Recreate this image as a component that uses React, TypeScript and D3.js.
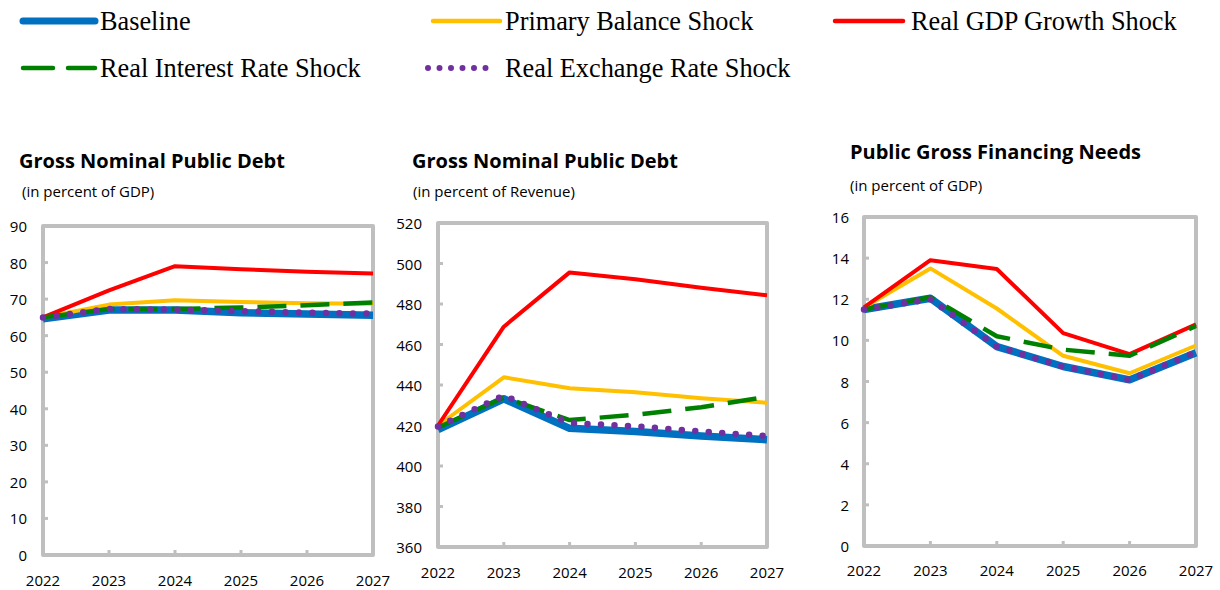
import * as d3 from 'd3';

const years = ['2022', '2023', '2024', '2025', '2026', '2027'];
const seriesNames = [
  'Baseline',
  'Primary Balance Shock',
  'Real GDP Growth Shock',
  'Real Interest Rate Shock',
  'Real Exchange Rate Shock',
];

// Gross nominal public debt, percent of GDP
const debtGdpBaseline = [64.6, 67.0, 67.0, 66.3, 65.9, 65.6];
const debtGdpPrimary = [65.0, 68.5, 69.7, 69.2, 68.9, 68.7];
const debtGdpGrowth = [65.0, 72.4, 79.0, 78.2, 77.5, 77.0];
const debtGdpInterest = [65.0, 67.3, 67.3, 67.7, 68.3, 69.1];
const debtGdpExchange = [65.0, 67.3, 67.1, 66.7, 66.3, 66.0];

// Gross nominal public debt, percent of revenue
const debtRevBaseline = [418.0, 433.2, 418.6, 417.0, 414.8, 413.0];
const debtRevPrimary = [420.0, 443.8, 438.4, 436.4, 433.5, 431.2];
const debtRevGrowth = [420.0, 468.8, 495.6, 492.2, 488.0, 484.3];
const debtRevInterest = [419.0, 433.8, 422.7, 425.3, 429.0, 434.2];
const debtRevExchange = [419.5, 434.8, 421.2, 419.6, 417.0, 414.8];

// Public gross financing needs, percent of GDP
const gfnBaseline = [11.5, 12.05, 9.7, 8.73, 8.08, 9.4];
const gfnPrimary = [11.6, 13.5, 11.55, 9.25, 8.4, 9.75];
const gfnGrowth = [11.6, 13.9, 13.47, 10.35, 9.33, 10.78];
const gfnInterest = [11.5, 12.1, 10.2, 9.55, 9.25, 10.7];
const gfnExchange = [11.5, 12.0, 9.7, 8.73, 8.08, 9.42];

const debtGdpTicks = [0, 10, 20, 30, 40, 50, 60, 70, 80, 90];
const debtRevTicks = [360, 380, 400, 420, 440, 460, 480, 500, 520];
const gfnTicks = [0, 2, 4, 6, 8, 10, 12, 14, 16];

const styles = [
  { color: '#0070C0', width: 7.5, dash: null, cap: 'butt' },
  { color: '#FFC000', width: 4, dash: null, cap: 'butt' },
  { color: '#FF0000', width: 4, dash: null, cap: 'butt' },
  { color: '#008000', width: 4.5, dash: '29 14', cap: 'butt' },
  { color: '#7030A0', width: 6.5, dash: '0 13.5', cap: 'round' },
];

const panels = [
  {
    title: 'Gross Nominal Public Debt',
    subtitle: '(in percent of GDP)',
    series: [debtGdpBaseline, debtGdpPrimary, debtGdpGrowth, debtGdpInterest, debtGdpExchange],
    ticks: debtGdpTicks,
    left: 43, right: 373, top: 226, bottom: 555,
    titleX: 19, titleY: 168, subX: 22, subY: 197, yLabX: 27, xLabY: 586,
  },
  {
    title: 'Gross Nominal Public Debt',
    subtitle: '(in percent of Revenue)',
    series: [debtRevBaseline, debtRevPrimary, debtRevGrowth, debtRevInterest, debtRevExchange],
    ticks: debtRevTicks,
    left: 438, right: 767, top: 223, bottom: 547,
    titleX: 412, titleY: 168, subX: 413, subY: 197, yLabX: 422, xLabY: 578,
  },
  {
    title: 'Public Gross Financing Needs',
    subtitle: '(in percent of GDP)',
    series: [gfnBaseline, gfnPrimary, gfnGrowth, gfnInterest, gfnExchange],
    ticks: gfnTicks,
    left: 864, right: 1196, top: 217, bottom: 546,
    titleX: 850, titleY: 159, subX: 850, subY: 191, yLabX: 849, xLabY: 576,
  },
];

const legendItems = [
  { x: 23, y: 21, len: 72 },
  { x: 433, y: 21, len: 67 },
  { x: 835, y: 21, len: 68 },
  { x: 23, y: 68, len: 72 },
  { x: 428, y: 68, len: 64 },
];

const sans = '"Open Sans", "Noto Sans", sans-serif';
const serif = '"Liberation Serif", "Times New Roman", serif';
const frame = '#BFBFBF';

function Panel({ p }: { p: (typeof panels)[number] }) {
  const x = d3.scalePoint<string>().domain(years).range([p.left, p.right]).padding(0);
  const y = d3
    .scaleLinear()
    .domain([p.ticks[0], p.ticks[p.ticks.length - 1]])
    .range([p.bottom, p.top]);
  const line = d3
    .line<number>()
    .x((_, i) => x(years[i]) as number)
    .y((d) => y(d));

  return (
    <g>
      <text x={p.titleX} y={p.titleY} fontFamily={sans} fontWeight={700} fontSize={20} fill="#000">
        {p.title}
      </text>
      <text x={p.subX} y={p.subY} fontFamily={sans} fontSize={15} fill="#000">
        {p.subtitle}
      </text>
      {p.ticks.map((t) => (
        <g key={t}>
          <text
            x={p.yLabX}
            y={y(t)}
            textAnchor="end"
            dominantBaseline="central"
            fontFamily={sans}
            fontSize={15}
            fill="#000"
          >
            {t}
          </text>
          <line x1={p.left} x2={p.left + 5} y1={y(t)} y2={y(t)} stroke={frame} strokeWidth={3} />
        </g>
      ))}
      {years.map((yr) => (
        <g key={yr}>
          <text
            x={x(yr)}
            y={p.xLabY}
            textAnchor="middle"
            fontFamily={sans}
            fontSize={15}
            fill="#000"
          >
            {yr}
          </text>
          <line x1={x(yr)} x2={x(yr)} y1={p.bottom} y2={p.bottom - 5} stroke={frame} strokeWidth={3} />
        </g>
      ))}
      <rect
        x={p.left}
        y={p.top}
        width={p.right - p.left}
        height={p.bottom - p.top}
        fill="none"
        stroke={frame}
        strokeWidth={4}
        strokeLinejoin="round"
      />
      {p.series.map((s, i) => (
        <path
          key={i}
          d={line(s) ?? ''}
          fill="none"
          stroke={styles[i].color}
          strokeWidth={styles[i].width}
          strokeDasharray={styles[i].dash ?? undefined}
          strokeLinecap={styles[i].cap as any}
          strokeLinejoin="round"
        />
      ))}
    </g>
  );
}

export default function App() {
  return (
    <svg
      width={1220}
      height={590}
      style={{ position: 'absolute', left: 0, top: 0, background: '#fff' }}
    >
      {legendItems.map((it, i) => {
        const st = styles[i];
        const legendDash = i === 3 ? '30 15' : i === 4 ? '0 11.5' : undefined;
        return (
          <g key={i}>
            <line
              x1={it.x}
              x2={it.x + it.len}
              y1={it.y}
              y2={it.y}
              stroke={st.color}
              strokeWidth={i === 0 ? 7 : i === 4 ? 6 : 4.5}
              strokeLinecap="round"
              strokeDasharray={legendDash}
            />
            <text
              x={it.x + it.len + (i === 2 ? 8 : i === 4 ? 13 : 5)}
              y={it.y + 9}
              fontFamily={serif}
              fontSize={26.3}
              fill="#000"
            >
              {seriesNames[i]}
            </text>
          </g>
        );
      })}
      {panels.map((p, i) => (
        <Panel key={i} p={p} />
      ))}
    </svg>
  );
}
